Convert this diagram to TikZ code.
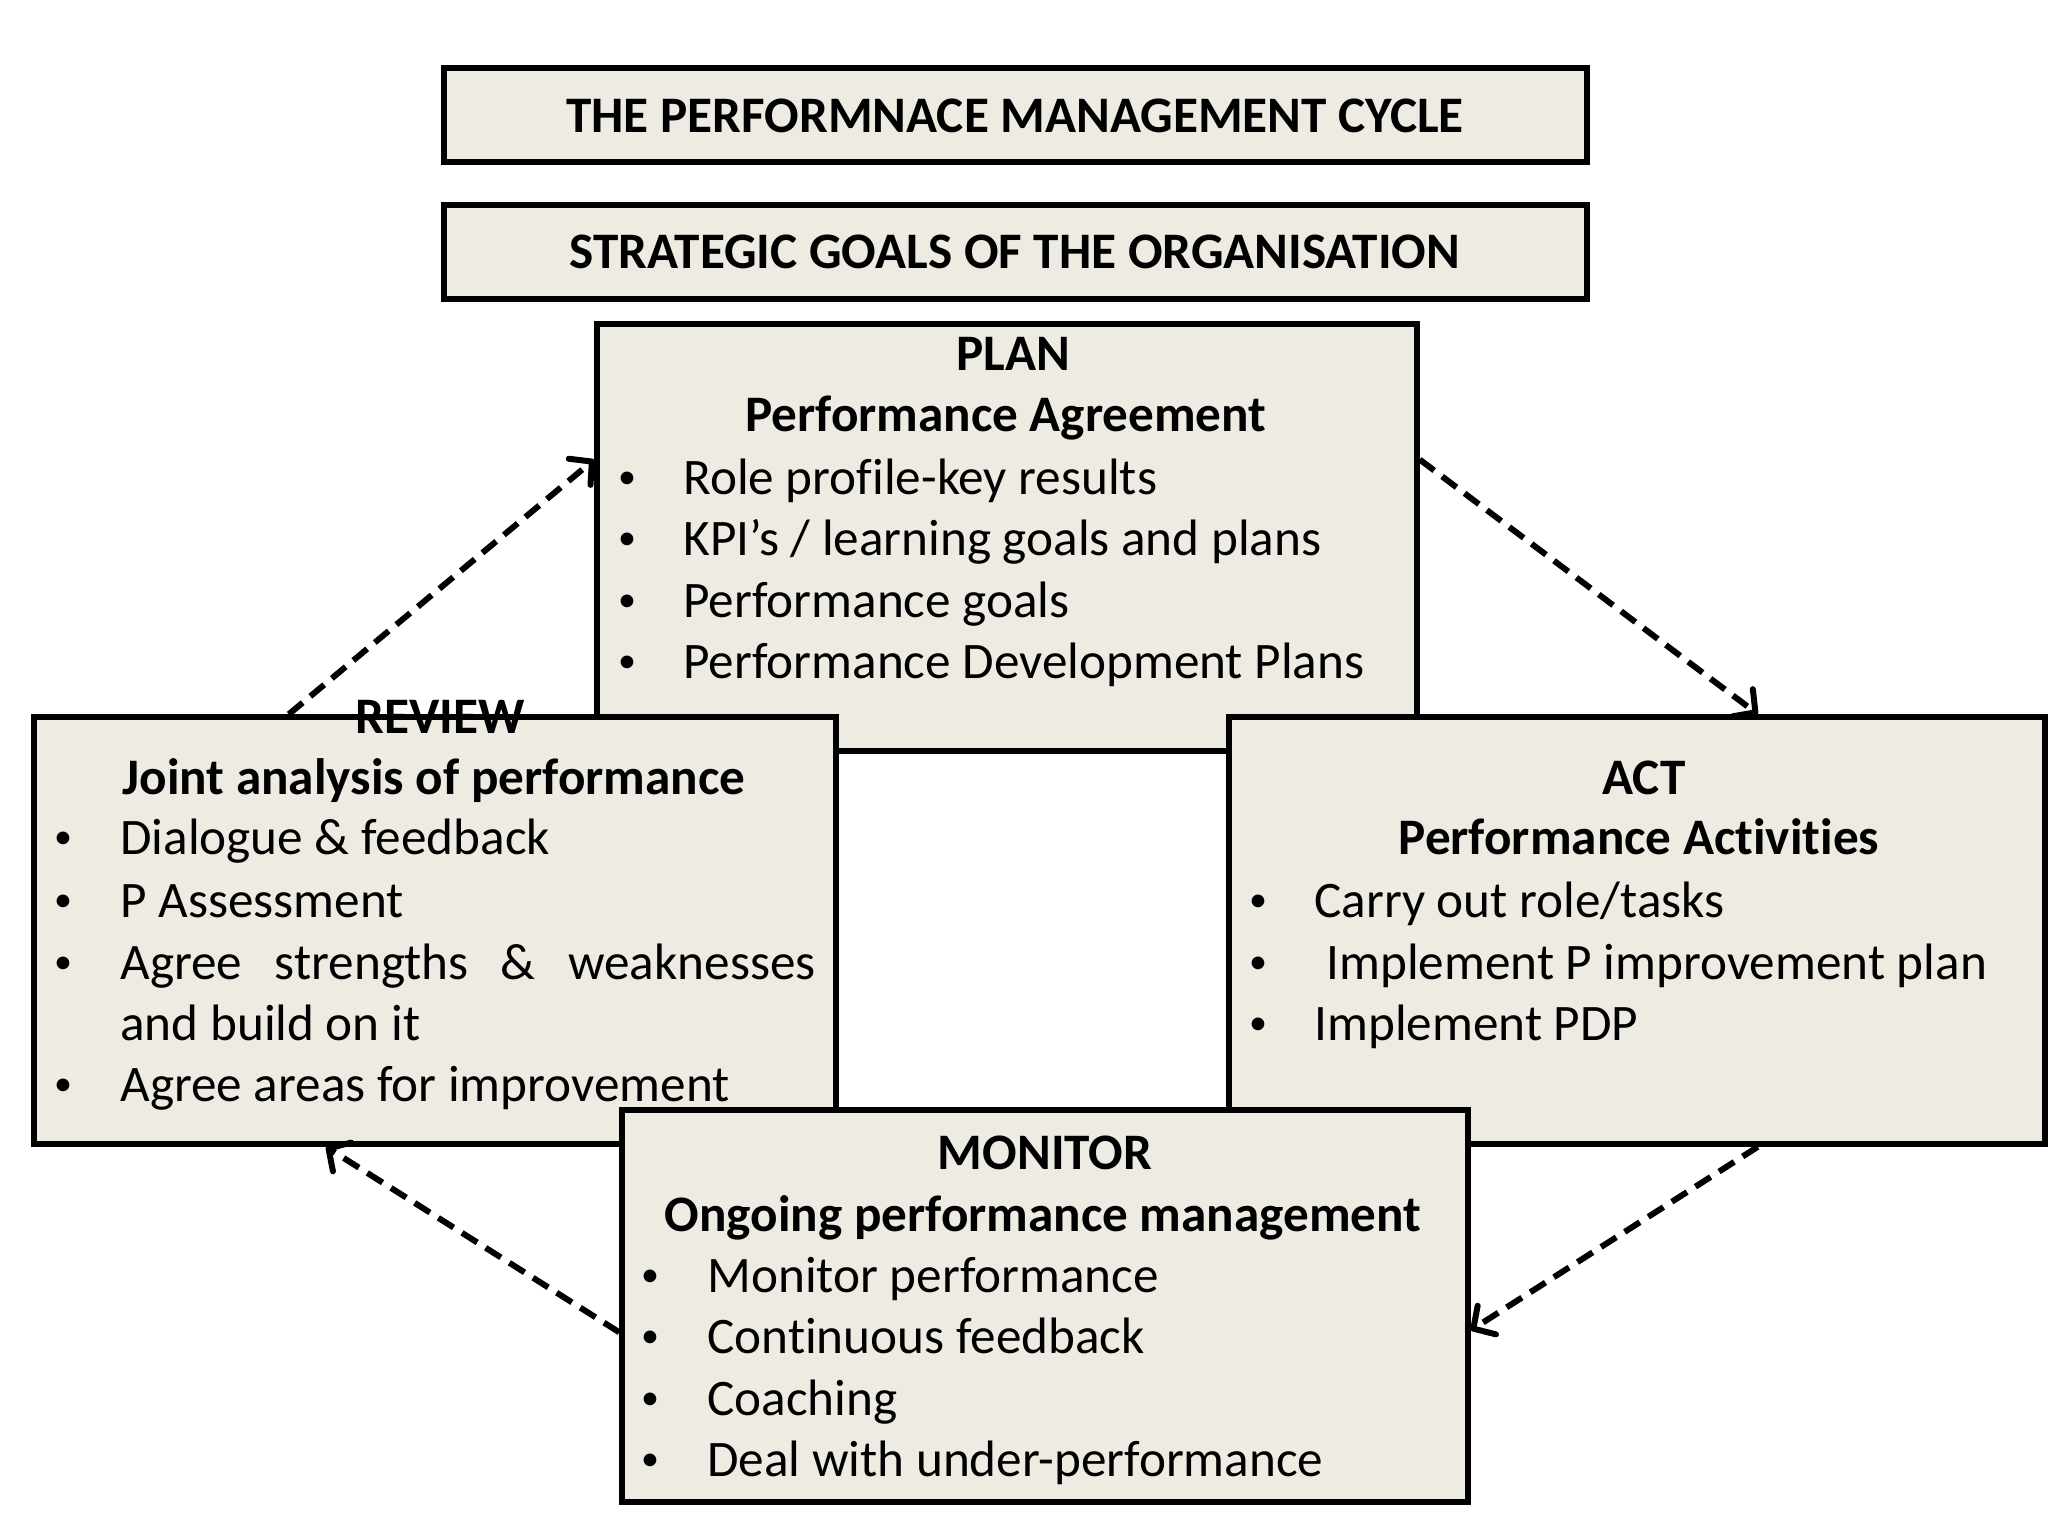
\documentclass[tikz,border=0pt]{standalone}
\usepackage{fontspec}
\setmainfont{Carlito}[Ligatures={TeX,NoCommon}]
\usetikzlibrary{arrows.meta,calc}
\definecolor{boxfill}{RGB}{238,235,226}
\tikzset{
 box/.style={draw=black, line width=2.8pt, fill=boxfill, rectangle, inner sep=0pt},
 flow/.style={dash pattern=on 9pt off 5pt, line width=3pt, -{Straight Barb[length=8pt,width=17pt,line width=3pt,round]}},
 head/.style={font=\fontsize{25.6}{30}\selectfont\bfseries, inner sep=0pt, anchor=mid, yshift=-6pt},
 item/.style={font=\fontsize{25.6}{30}\selectfont, inner sep=0pt, anchor=mid west, yshift=-6pt},
 dot/.style={font=\fontsize{18}{22}\selectfont, inner sep=0pt, anchor=center, yshift=-1pt},
}
\begin{document}
\begin{tikzpicture}[x=0.5pt,y=-0.5pt]
\useasboundingbox (0,0) rectangle (2048,1536);
\fill[white] (0,0) rectangle (2048,1536);

% title boxes
\node[box, minimum width=571.5pt, minimum height=47pt] (title) at (1015.5,115) {};
\node[head] (titletxt) at (1015,116) {THE PERFORMNACE MANAGEMENT CYCLE};
\node[box, minimum width=571.5pt, minimum height=47pt] (goals) at (1015.5,252) {};
\node[head] (goalstxt) at (1015,252) {STRATEGIC GOALS OF THE ORGANISATION};

% PLAN
\node[box, minimum width=410pt, minimum height=213.5pt] (plan) at (1007,537.5) {};
\node[head] (planh1) at (1013,354) {PLAN};
\node[head] (planh2) at (1006,415) {Performance Agreement};
\node[dot] (pb1) at (627,478) {•};
\node[dot] (pb2) at (627,539) {•};
\node[dot] (pb3) at (627,601) {•};
\node[dot] (pb4) at (627,662) {•};
\node[item] (pi1) at (683,478) {Role profile-key results};
\node[item] (pi2) at (683,539) {KPI’s / learning goals and plans};
\node[item] (pi3) at (683,601) {Performance goals};
\node[item] (pi4) at (683,662) {Performance Development Plans};

% REVIEW
\node[box, minimum width=401pt, minimum height=213.5pt] (review) at (435,930.5) {};
\node[head] (revh1) at (440,717) {REVIEW};
\node[head] (revh2) at (434,778) {Joint analysis of performance};
\node[dot] (rb1) at (63,838) {•};
\node[dot] (rb2) at (63,901) {•};
\node[dot] (rb3) at (63,963) {•};
\node[dot] (rb4) at (63,1085) {•};
\node[item] (ri1) at (120,838) {Dialogue \& feedback};
\node[item] (ri2) at (120,901) {P Assessment};
\node[item] (ri3) at (120,963) {\makebox[347.5pt][s]{Agree strengths \& weaknesses}};
\node[item] (ri3b) at (120,1024) {and build on it};
\node[item] (ri4) at (120,1085) {Agree areas for improvement};

% ACT
\node[box, minimum width=408pt, minimum height=213.5pt] (act) at (1637,930.5) {};
\node[head] (acth1) at (1644,778) {ACT};
\node[head] (acth2) at (1639,838) {Performance Activities};
\node[dot] (ab1) at (1258,901) {•};
\node[dot] (ab2) at (1258,963) {•};
\node[dot] (ab3) at (1258,1024) {•};
\node[item] (ai1) at (1314,901) {Carry out role/tasks};
\node[item] (ai2) at (1326,963) {Implement P improvement plan};
\node[item] (ai3) at (1314,1024) {Implement PDP};

% MONITOR
\node[box, minimum width=423pt, minimum height=196pt] (monitor) at (1045,1306) {};
\node[head] (monh1) at (1045,1153) {MONITOR};
\node[head] (monh2) at (1043,1215) {Ongoing performance management};
\node[dot] (mb1) at (650,1276) {•};
\node[dot] (mb2) at (650,1337) {•};
\node[dot] (mb3) at (650,1399) {•};
\node[dot] (mb4) at (650,1460) {•};
\node[item] (mi1) at (707,1276) {Monitor performance};
\node[item] (mi2) at (707,1337) {Continuous feedback};
\node[item] (mi3) at (707,1399) {Coaching};
\node[item] (mi4) at (707,1460) {Deal with under-performance};

% cycle arrows
\draw[flow] ($(review.north west)!0.319!(review.north east)$) -- ($(plan.north west)!0.32!(plan.south west)$);
\draw[flow] ($(plan.north east)!0.32!(plan.south east)$) -- ($(act.north west)!0.647!(act.north east)$);
\draw[flow] ($(act.south west)!0.647!(act.south east)$) -- ($(monitor.north east)!0.561!(monitor.south east)$);
\draw[flow] ($(monitor.north west)!0.566!(monitor.south west)$) -- ($(review.south west)!0.365!(review.south east)$);
\end{tikzpicture}
\end{document}
